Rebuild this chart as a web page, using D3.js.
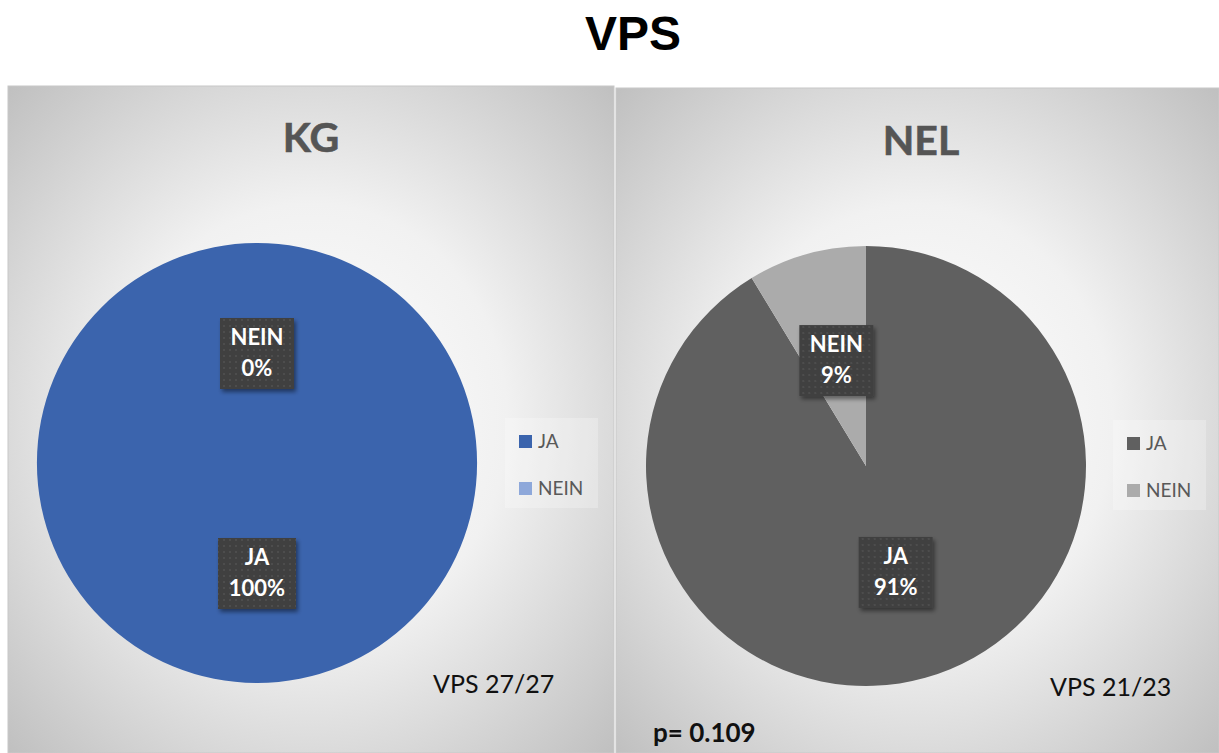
<!DOCTYPE html>
<html><head><meta charset="utf-8">
<script src="https://cdn.jsdelivr.net/npm/d3@7"></script>
<style>body{margin:0;background:#fff;}svg{display:block;}</style>
</head><body>
<script>
const chartTitle = "VPS";
const groups = ["KG", "NEL"];
const categories = ["JA", "NEIN"];
const kgValues = [27, 0];
const nelValues = [21, 2];
const kgColors = ["#3B64AD", "#8EA8DA"];
const nelColors = ["#606060", "#ABABAB"];
const footnotes = ["VPS 27/27", "VPS 21/23"];
const pValue = "p= 0.109";

const W = 1219, H = 753;
const svg = d3.select("body").append("svg").attr("width", W).attr("height", H);
const defs = svg.append("defs");

const rg = defs.append("radialGradient").attr("id", "bg").attr("cx", "50%").attr("cy", "50%").attr("r", "72%");
rg.append("stop").attr("offset", "0%").attr("stop-color", "#ffffff");
rg.append("stop").attr("offset", "45%").attr("stop-color", "#f1f1f1");
rg.append("stop").attr("offset", "100%").attr("stop-color", "#bebebe");

const pat = defs.append("pattern").attr("id", "dots").attr("patternUnits", "userSpaceOnUse").attr("width", 6).attr("height", 6);
pat.append("rect").attr("width", 6).attr("height", 6).attr("fill", "#3f3f3f");
pat.append("rect").attr("x", 2).attr("y", 2).attr("width", 2).attr("height", 2).attr("fill", "#4e4e4e");

const sh = defs.append("filter").attr("id", "shadow").attr("x", "-20%").attr("y", "-20%").attr("width", "150%").attr("height", "150%");
sh.append("feDropShadow").attr("dx", 2).attr("dy", 3).attr("stdDeviation", 2).attr("flood-color", "#000").attr("flood-opacity", 0.45);

svg.append("text").attr("x", 633).attr("y", 50).attr("text-anchor", "middle")
  .attr("font-family", "Liberation Sans, Arial, sans-serif").attr("font-weight", "bold")
  .attr("font-size", 48).attr("fill", "#000").text(chartTitle);

const panels = [
  {x: 8, y: 86, w: 606, h: 667, values: kgValues, colors: kgColors, cx: 257, cy: 463, r: 220, tx: 311, ty: 152, lx: 505, ly: 418, fx: 433, fy: 693},
  {x: 616, y: 88, w: 603, h: 665, values: nelValues, colors: nelColors, cx: 866, cy: 466, r: 220, tx: 921, ty: 155, lx: 1113, ly: 420, fx: 1050, fy: 696}
];

const pie = d3.pie().sort(null).value(d => d);
const font = "Lato, 'Open Sans', sans-serif";

panels.forEach((p, i) => {
  const g = svg.append("g");
  g.append("rect").attr("x", p.x).attr("y", p.y).attr("width", p.w).attr("height", p.h)
    .attr("fill", "url(#bg)").attr("stroke", "#c8c8c8").attr("stroke-width", 1);
  g.append("text").attr("x", p.tx).attr("y", p.ty).attr("text-anchor", "middle")
    .attr("font-family", font).attr("font-weight", "bold").attr("font-size", 41)
    .attr("fill", "#555").attr("stroke", "#555").attr("stroke-width", 0.6).text(groups[i]);

  const arcs = pie(p.values);
  const arc = d3.arc().innerRadius(0).outerRadius(p.r);
  const pg = g.append("g").attr("transform", `translate(${p.cx},${p.cy})`);
  pg.selectAll("path").data(arcs).join("path")
    .attr("d", arc).attr("fill", (d, j) => p.colors[j]);

  const total = d3.sum(p.values);
  arcs.forEach((d, j) => {
    const [x, y] = arc.centroid(d);
    const pct = Math.round(d.data / total * 100) + "%";
    const bw = pct.length > 3 ? 78 : 74;
    const lg = pg.append("g").attr("transform", `translate(${x},${y})`);
    lg.append("rect").attr("x", -bw / 2).attr("y", -35).attr("width", bw).attr("height", 71)
      .attr("fill", "url(#dots)").attr("filter", "url(#shadow)");
    lg.append("text").attr("y", -8).attr("text-anchor", "middle").attr("font-family", font)
      .attr("font-weight", "bold").attr("font-size", 22).attr("fill", "#fff").text(categories[j]);
    lg.append("text").attr("y", 23).attr("text-anchor", "middle").attr("font-family", font)
      .attr("font-weight", "bold").attr("font-size", 22).attr("fill", "#fff").text(pct);
  });

  const lgd = g.append("g").attr("transform", `translate(${p.lx},${p.ly})`);
  lgd.append("rect").attr("width", 93).attr("height", 90).attr("fill", "#ffffff").attr("opacity", 0.25);
  categories.forEach((c, j) => {
    lgd.append("rect").attr("x", 14).attr("y", 17 + j * 47).attr("width", 13).attr("height", 13).attr("fill", p.colors[j]);
    lgd.append("text").attr("x", 33).attr("y", 30 + j * 47).attr("font-family", font)
      .attr("font-size", 19).attr("fill", "#595959").text(c);
  });

  g.append("text").attr("x", p.fx).attr("y", p.fy).attr("font-family", font)
    .attr("font-size", 25).attr("fill", "#111").text(footnotes[i]);
});

svg.append("text").attr("x", 653).attr("y", 742).attr("font-family", font)
  .attr("font-weight", "bold").attr("font-size", 26).attr("fill", "#111").text(pValue);
</script>
</body></html>
